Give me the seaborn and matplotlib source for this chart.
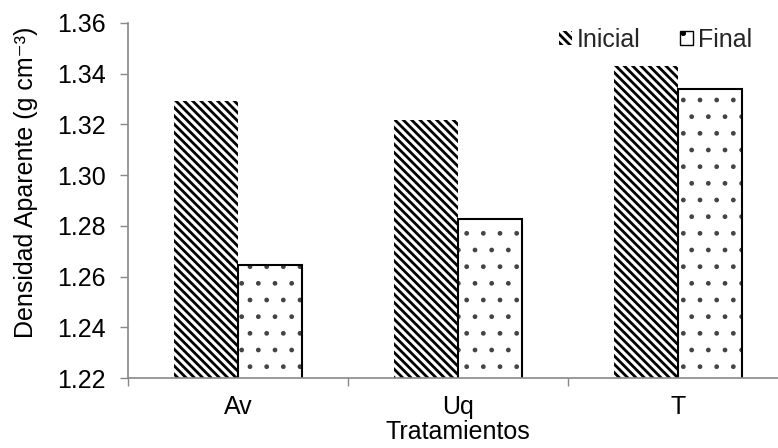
import matplotlib
matplotlib.use("Agg")
import matplotlib.pyplot as plt
import seaborn as sns
import pandas as pd
from matplotlib.patches import Rectangle, Patch
from matplotlib.ticker import FormatStrFormatter, FixedLocator

tratamientos = ["Av", "Uq", "T"]
inicial = [1.3293, 1.3217, 1.3430]
final = [1.2646, 1.2826, 1.3340]
series = ["Inicial", "Final"]
yticks = [1.22, 1.24, 1.26, 1.28, 1.30, 1.32, 1.34, 1.36]

df = pd.DataFrame({
    "Tratamiento": tratamientos * 2,
    "valor": inicial + final,
    "Momento": ["Inicial"] * 3 + ["Final"] * 3,
})

sns.set_theme(style="white")
plt.rcParams["font.family"] = ["Liberation Sans", "DejaVu Sans"]
plt.rcParams["hatch.linewidth"] = 2.0

FS = 18

fig = plt.figure(figsize=(7.78, 4.48), dpi=100)
ax = fig.add_axes([128 / 778, 70 / 448, 660 / 778, 355 / 448])

sns.barplot(data=df, x="Tratamiento", y="valor", hue="Momento",
            palette=["white", "white"], width=0.58, gap=0, ax=ax,
            legend=False, errorbar=None)


def dotted(p):
    p.set_hatch(".")
    p.set_edgecolor("#444444")
    if hasattr(p, "set_hatch_linewidth"):
        p.set_hatch_linewidth(1.0)


n = len(tratamientos)
bars = [p for p in ax.patches if isinstance(p, Rectangle)][: 2 * n]
for i, p in enumerate(bars):
    p.set_facecolor("white")
    p.set_linewidth(0)
    if i < n:
        p.set_hatch("\\\\\\\\")
        p.set_edgecolor("black")
    else:
        dotted(p)
        x0, y0 = p.get_xy()
        ax.add_patch(Rectangle((x0, y0), p.get_width(), p.get_height(),
                               fill=False, edgecolor="black", linewidth=1.5,
                               zorder=p.get_zorder() + 0.1))

ax.set_ylim(1.22, 1.36)
ax.set_xlim(-0.5, 2.5)
ax.set_yticks(yticks)
ax.yaxis.set_major_formatter(FormatStrFormatter("%.2f"))
ax.tick_params(axis="y", which="major", left=True, length=6, width=1,
               color="#888888", labelsize=FS, labelcolor="black", pad=10)
ax.tick_params(axis="x", which="major", length=0, labelsize=FS,
               labelcolor="black", pad=12)
ax.xaxis.set_minor_locator(FixedLocator([-0.5, 0.5, 1.5]))
ax.tick_params(axis="x", which="minor", bottom=True, length=6, width=1,
               color="#888888")

for s in ["top", "right"]:
    ax.spines[s].set_visible(False)
for s in ["left", "bottom"]:
    ax.spines[s].set_color("#888888")
    ax.spines[s].set_linewidth(1.2)

ax.set_ylabel("Densidad Aparente (g cm\u207b\u00b3)", fontsize=FS, color="black")
ax.yaxis.set_label_coords(-0.136, 0.55)
ax.set_xlabel("Tratamientos", fontsize=FS, color="black", labelpad=1)

leg_final = Patch(facecolor="white", edgecolor="#444444", hatch=".",
                  linewidth=0, label=series[1])
handles = [
    Patch(facecolor="white", edgecolor="black", hatch="\\\\\\\\", linewidth=0,
          label=series[0]),
    leg_final,
]
leg = fig.legend(handles=handles, loc="center right",
                 bbox_to_anchor=(752 / 778, 1 - 40 / 448),
                 ncol=2, frameon=False, fontsize=FS, handlelength=0.5,
                 handleheight=0.5, handletextpad=0.2, columnspacing=1.6,
                 borderaxespad=0, borderpad=0)
lh = leg.legend_handles[1]
lh.set_linewidth(1)
lh.set_edgecolor("black")
if hasattr(lh, "set_hatch_linewidth"):
    lh.set_hatch_linewidth(1.5)

fig.savefig("out.png", dpi=100)
